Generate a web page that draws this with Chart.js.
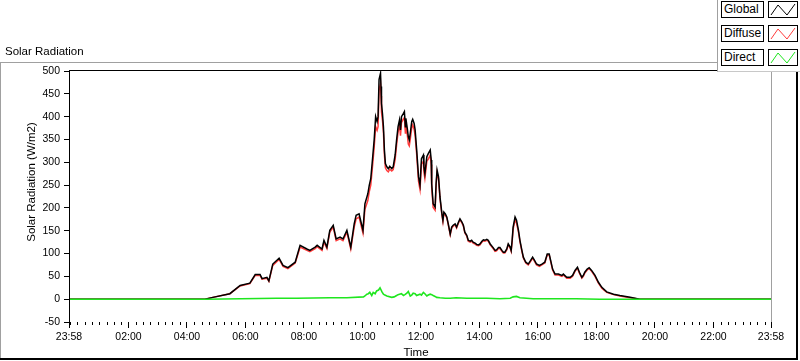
<!DOCTYPE html>
<html>
<head>
<meta charset="utf-8">
<script src="https://cdn.jsdelivr.net/npm/chart.js@4.4.0/dist/chart.umd.min.js"></script>
<style>
  body { margin: 0; background: #fff; }
  #wrap { position: relative; width: 800px; height: 361px; overflow: hidden; background: #fff;
          font-family: 'Liberation Sans', Arial, sans-serif; color: #000; }
  #chart { position: absolute; left: 0; top: 0; }
  .rule { position: absolute; }
  #graphName { position: absolute; left: 5px; top: 44px; font-size: 11.5px; line-height: 14px; white-space: nowrap; }
  #yTitle { position: absolute; left: -69px; top: 175px; width: 200px; height: 14px; line-height: 14px;
            font-size: 11.5px; text-align: center; transform: rotate(-90deg); white-space: nowrap; }
  #xTitle { position: absolute; left: 366px; top: 345px; width: 100px; line-height: 14px; font-size: 11.5px; text-align: center; }
  #legend { position: absolute; left: 717px; top: 0; width: 83px; height: 71px; background: #fff;
            border-left: 1px solid #a0a0a0; border-bottom: 1px solid #c8c8c8; }
  .item { position: absolute; left: 3px; width: 80px; height: 17px; }
  .name { position: absolute; left: 0; top: 0; width: 43px; height: 17px; box-sizing: border-box;
          border: 1px solid #000; font-size: 12px; line-height: 15px; padding-left: 2px; white-space: nowrap; }
  .swatch { position: absolute; left: 47px; top: 0; width: 30px; height: 17px; box-sizing: border-box; border: 1px solid #000; }
  .swatch svg { position: absolute; left: 0; top: 0; }
</style>
</head>
<body>
<div id="wrap">
  <canvas id="chart" width="800" height="361"></canvas>
  <div class="rule" style="left:0;top:62px;width:717px;height:1px;background:#a0a0a0"></div>
  <div class="rule" style="left:0;top:62px;width:1px;height:297px;background:#a0a0a0"></div>
  <div class="rule" style="left:0;top:358px;width:798px;height:2px;background:#000"></div>
  <div class="rule" style="left:796px;top:72px;width:2px;height:288px;background:#000"></div>
  <div id="graphName">Solar Radiation</div>
  <div id="yTitle">Solar Radiation (W/m2)</div>
  <div id="xTitle">Time</div>
  <div id="legend"></div>
</div>
<script>
// readings of the day, clock time -> W/m2
const globalTimes = ['00:00','04:37','04:53','05:28','05:49','06:09','06:20','06:30','06:34','06:44','06:48','06:56',
  '07:09','07:17','07:27','07:42','07:52','08:06','08:12','08:23','08:27','08:37','08:41','08:47','08:53','09:00',
  '09:06','09:14','09:20','09:28','09:36','09:43','09:47','09:53','10:01','10:05','10:11','10:14','10:17','10:21',
  '10:24','10:27','10:30','10:32','10:34','10:37','10:38','10:39','10:41','10:43','10:45','10:47','10:50','10:53',
  '10:56','11:00','11:03','11:07','11:10','11:13','11:16','11:18','11:20','11:24','11:26','11:28','11:29','11:32',
  '11:34','11:36','11:38','11:41','11:43','11:46','11:48','11:51','11:55','11:58','12:01','12:05','12:06','12:08',
  '12:12','12:15','12:19','12:21','12:22','12:25','12:29','12:31','12:33','12:36','12:39','12:43','12:45','12:47',
  '12:50','12:53','12:56','13:00','13:03','13:06','13:10','13:13','13:17','13:20','13:24','13:27','13:30','13:34',
  '13:37','13:41','13:44','13:47','13:51','13:54','13:58','14:01','14:05','14:08','14:11','14:15','14:18','14:22',
  '14:28','14:32','14:35','14:39','14:42','14:46','14:49','14:52','14:56','14:59','15:03','15:05','15:07','15:09',
  '15:13','15:16','15:20','15:23','15:27','15:30','15:35','15:40','15:45','15:49','15:53','15:57','16:03','16:08',
  '16:14','16:19','16:23','16:26','16:30','16:35','16:42','16:49','16:52','16:59','17:06','17:11','17:16','17:21',
  '17:25','17:30','17:33','17:36','17:41','17:45','17:50','17:57','18:04','18:11','18:21','18:35','18:48','19:09',
  '19:29','23:58'];
const globalValues = [0,0,4,12,30,35,54,54,45,48,40,77,
  90,74,69,81,118,110,107,114,118,110,129,114,151,162,
  132,136,132,151,114,165,184,187,151,209,231,250,264,312,
  349,400,389,400,481,495,466,429,407,378,327,297,290,286,
  291,286,290,316,349,378,393,371,400,407,411,378,396,374,
  356,349,363,389,394,385,371,330,268,250,308,316,290,275,
  312,319,327,305,253,209,202,253,283,268,224,187,173,191,
  187,180,165,143,158,162,165,158,169,176,169,162,147,140,
  129,127,129,125,123,120,119,121,127,130,129,131,129,121,
  113,107,108,113,113,107,103,103,110,121,114,107,129,158,
  180,173,151,129,107,92,81,77,85,92,85,77,74,77,
  81,99,99,85,66,55,55,52,55,48,48,52,63,70,
  59,48,52,59,66,69,63,52,37,26,16,11,8,4,
  0,0];
const diffuseValues = [0,0,4,12,29,34,52,52,44,46,39,74,
  87,72,67,79,114,107,104,111,115,107,125,111,147,158,
  128,132,128,147,110,158,176,180,145,197,216,236,250,296,
  333,378,370,378,458,472,445,410,392,366,316,288,282,279,
  285,281,284,306,338,366,381,358,387,395,398,364,381,360,
  340,336,350,376,382,372,358,320,258,240,296,302,279,265,
  302,307,316,295,244,201,195,248,278,264,220,184,170,188,
  184,178,163,141,156,160,163,156,167,174,167,160,145,138,
  127,125,127,123,121,118,117,119,125,128,127,129,127,119,
  111,105,106,111,111,105,101,101,108,119,112,105,125,153,
  174,167,147,126,105,90,79,75,83,90,83,75,72,75,
  79,97,97,83,64,53,53,50,53,46,46,50,61,68,
  57,46,50,57,64,67,61,50,35,24,15,10,7,3,
  0,0];
const directTimes = ['00:00','04:37','07:04','07:45','08:53','09:28','10:02','10:05','10:09','10:12','10:15','10:19',
  '10:22','10:26','10:29','10:33','10:36','10:40','10:43','10:46','10:50','11:00','11:05','11:10','11:13','11:16',
  '11:20','11:24','11:27','11:31','11:34','11:38','11:41','11:44','11:48','11:51','11:58','12:01','12:05','12:08',
  '12:12','12:15','12:19','12:22','12:25','12:29','12:32','12:39','12:50','13:00','13:12','13:34','14:15','14:42',
  '15:03','15:09','15:16','15:23','15:50','17:18','18:07','23:58'];
const directValues = [0,0,2,2,3,3,5,7,11,12,15,8,
  15,12,18,20,25,16,11,9,7,4,5,8,10,11,
  12,8,10,13,17,7,9,13,12,8,11,9,15,12,
  7,9,11,10,8,6,4,3,2,2,3,2,2,1,
  2,5,6,3,1,1,0,0];

const seriesNames = ['Global', 'Diffuse', 'Direct'];
const xTickLabels = ['23:58','02:00','04:00','06:00','08:00','10:00','12:00','14:00','16:00','18:00','20:00','22:00','23:58'];
const yTickValues = [-50, 0, 50, 100, 150, 200, 250, 300, 350, 400, 450, 500];

const colors = ['#000000', '#ff3c3c', '#1ee61e'];

function toMin(s) {
  const p = s.split(':').map(Number);
  return p[0] * 60 + p[1];
}
// first label is the previous day's 23:58
const xTickPos = xTickLabels.map((s, i) => i === 0 ? toMin(s) - 1440 : toMin(s));

function pairs(times, values) {
  return times.map((t, i) => ({ x: toMin(t), y: values[i] }));
}

// legend
const legend = document.getElementById('legend');
seriesNames.forEach((name, i) => {
  const it = document.createElement('div');
  it.className = 'item';
  it.style.top = (1 + i * 24) + 'px';
  it.innerHTML = '<div class="name">' + name + '</div>' +
    '<div class="swatch"><svg width="28" height="15"><polyline points="2,13 9,3 18,13 26,2" fill="none" stroke="' +
    colors[i] + '" stroke-width="1"/></svg></div>';
  legend.appendChild(it);
});

const frame = {
  id: 'frame',
  afterDraw(chart) {
    const { ctx, chartArea: a, scales: { x } } = chart;
    ctx.save();
    ctx.lineWidth = 1;
    // minor ticks every 15 min
    ctx.strokeStyle = '#000';
    ctx.beginPath();
    for (let m = 0; m < 1440; m += 15) {
      if (m % 120 === 0 && m > 0) continue;
      const px = Math.round(x.getPixelForValue(m)) + 0.5;
      ctx.moveTo(px, a.bottom);
      ctx.lineTo(px, a.bottom + 3);
    }
    ctx.stroke();
    // top border
    ctx.beginPath();
    ctx.moveTo(a.left, Math.round(a.top) - 0.5);
    ctx.lineTo(a.right, Math.round(a.top) - 0.5);
    ctx.stroke();
    // right border
    ctx.strokeStyle = '#a0a0a0';
    ctx.beginPath();
    ctx.moveTo(Math.round(a.right) + 0.5, a.top);
    ctx.lineTo(Math.round(a.right) + 0.5, a.bottom);
    ctx.stroke();
    ctx.restore();
  }
};

const tickFont = { family: "'Liberation Sans', Arial, sans-serif", size: 10.5 };

new Chart(document.getElementById('chart'), {
  type: 'line',
  data: {
    datasets: [
      { label: seriesNames[0], data: pairs(globalTimes, globalValues), borderColor: colors[0], order: 1 },
      { label: seriesNames[1], data: pairs(globalTimes, diffuseValues), borderColor: colors[1], order: 2 },
      { label: seriesNames[2], data: pairs(directTimes, directValues), borderColor: colors[2], order: 0, borderWidth: 1.6 }
    ]
  },
  options: {
    responsive: false,
    animation: false,
    layout: { padding: { top: 71, right: 29, left: 0, bottom: 0 } },
    elements: {
      point: { radius: 0 },
      line: { borderWidth: 1.5, tension: 0 }
    },
    plugins: { legend: { display: false }, tooltip: { enabled: false } },
    scales: {
      x: {
        type: 'linear',
        min: xTickPos[0],
        max: xTickPos[xTickPos.length - 1],
        border: { display: false },
        grid: { drawOnChartArea: false, tickLength: 6, color: '#000' },
        ticks: {
          autoSkip: false, maxRotation: 0, padding: 3, color: '#000', font: tickFont,
          callback: (v, i) => xTickLabels[i]
        },
        afterBuildTicks: s => { s.ticks = xTickPos.map(v => ({ value: v })); },
        afterFit: s => { s.height = 39; }
      },
      y: {
        min: yTickValues[0],
        max: yTickValues[yTickValues.length - 1],
        border: { display: true, color: '#000' },
        grid: { drawOnChartArea: false, tickLength: 5, color: '#000' },
        ticks: { padding: 4, color: '#000', font: tickFont },
        afterBuildTicks: s => { s.ticks = yTickValues.map(v => ({ value: v })); },
        afterFit: s => { s.width = 69; }
      }
    }
  },
  plugins: [frame]
});
</script>
</body>
</html>
